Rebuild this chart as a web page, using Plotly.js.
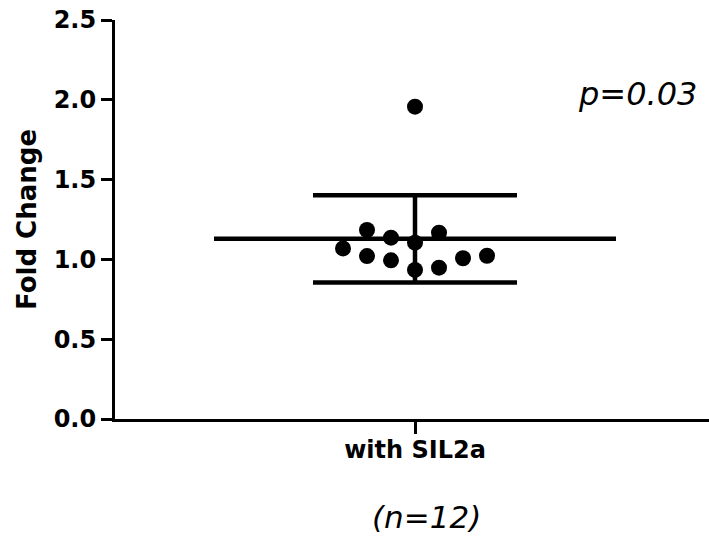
<!DOCTYPE html>
<html>
<head>
<meta charset="utf-8">
<script src="https://cdn.plot.ly/plotly-3.0.1.min.js"></script>
<style>html,body{margin:0;padding:0;background:#fff;}#chart{width:709px;height:546px;}</style>
</head>
<body>
<div id="chart"></div>
<script>
// Data
const category = "with SIL2a";
const foldChange = [1.069, 1.184, 1.021, 1.136, 0.994, 1.105, 0.934, 1.167, 0.948, 1.007, 1.023, 1.957];
const xJitter = [-0.24, -0.16, -0.16, -0.08, -0.08, 0, 0, 0.08, 0.08, 0.16, 0.24, 0];
const yTicks = [0, 0.5, 1.0, 1.5, 2.0, 2.5];
const pText = "p=0.03";
const nText = "(n=12)";

const n = foldChange.length;
const mean = foldChange.reduce((a, b) => a + b, 0) / n;
const sd = Math.sqrt(foldChange.reduce((a, b) => a + (b - mean) ** 2, 0) / (n - 1));

const meanHalf = 0.67, capHalf = 0.34;
const lineStyle = {color: '#000', width: 4.5};
const traces = [
  {x: [-meanHalf, meanHalf], y: [mean, mean], mode: 'lines', line: lineStyle, hoverinfo: 'skip'},
  {x: [-capHalf, capHalf], y: [mean + sd, mean + sd], mode: 'lines', line: lineStyle, hoverinfo: 'skip'},
  {x: [-capHalf, capHalf], y: [mean - sd, mean - sd], mode: 'lines', line: lineStyle, hoverinfo: 'skip'},
  {x: [0, 0], y: [mean - sd, mean + sd], mode: 'lines', line: lineStyle, hoverinfo: 'skip'},
  {x: xJitter, y: foldChange, mode: 'markers', marker: {color: '#000', size: 16}, name: category}
];

const fontB = {family: 'DejaVu Sans', size: 24, color: '#000', weight: 'bold'};
const layout = {
  width: 709, height: 546,
  margin: {l: 115, r: 0, t: 20, b: 127},
  showlegend: false,
  paper_bgcolor: '#fff', plot_bgcolor: '#fff',
  xaxis: {
    range: [-1, 0.98], showgrid: false, zeroline: false,
    showline: true, linecolor: '#000', linewidth: 3,
    tickmode: 'array', tickvals: [0], ticktext: ['<b>' + category + '</b>'],
    ticks: 'outside', ticklen: 12, tickwidth: 3, tickcolor: '#000',
    tickfont: fontB, ticklabelstandoff: -5, fixedrange: true
  },
  yaxis: {
    range: [0, 2.5], showgrid: false, zeroline: false,
    showline: true, linecolor: '#000', linewidth: 3,
    tickmode: 'array', tickvals: yTicks, ticktext: yTicks.map(v => '<b>' + v.toFixed(1) + '</b>'),
    ticks: 'outside', ticklen: 11, tickwidth: 3, tickcolor: '#000',
    tickfont: fontB,
    title: {text: '<b>Fold Change</b>', font: {family: 'DejaVu Sans', size: 26, color: '#000'}, standoff: 10},
    fixedrange: true
  },
  annotations: [
    {xref: 'paper', yref: 'paper', x: 1.0, y: 0.815, xanchor: 'right', yanchor: 'middle', xshift: -10,
     text: '<i>' + pText + '</i>', showarrow: false, font: {family: 'DejaVu Sans', size: 32, color: '#000'}},
    {xref: 'x', yref: 'paper', x: 0, y: -0.245, xanchor: 'center', yanchor: 'middle', xshift: 11,
     text: '<i>' + nText + '</i>', showarrow: false, font: {family: 'DejaVu Sans', size: 31, color: '#000'}}
  ]
};

Plotly.newPlot('chart', traces, layout, {displayModeBar: false, staticPlot: true});
</script>
</body>
</html>
